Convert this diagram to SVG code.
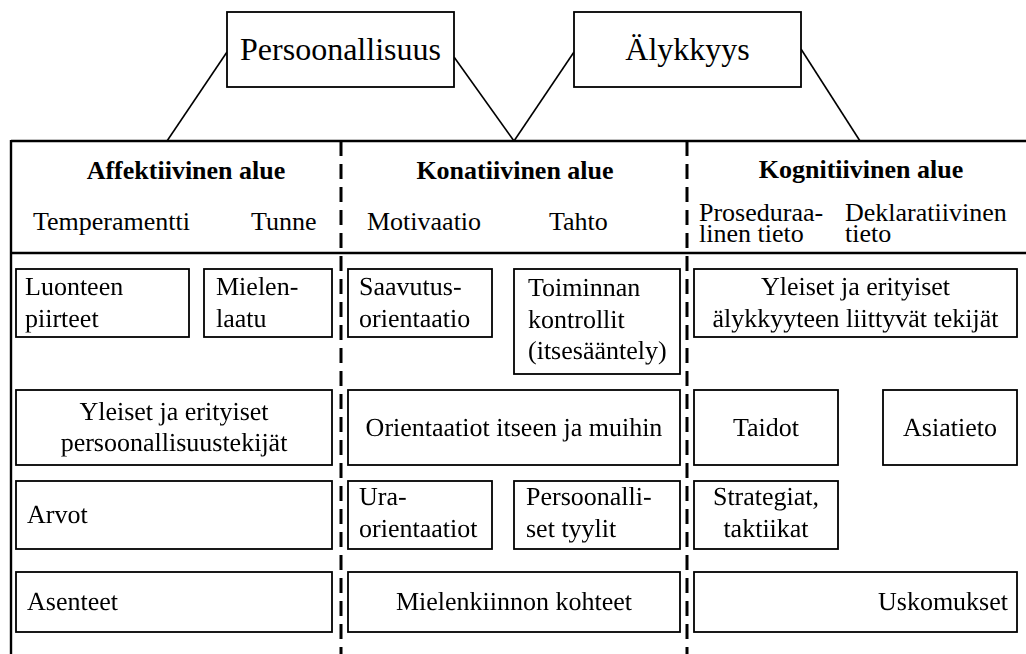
<svg xmlns="http://www.w3.org/2000/svg" width="1026" height="654" viewBox="0 0 1026 654">
  <defs>
    <filter id="flat" x="-5%" y="-20%" width="110%" height="140%">
      <feOffset dx="0" dy="0"/>
    </filter>
  </defs>
  <style>
    .box { fill: #fff; stroke: #000; stroke-width: 1.8; }
    .frame { fill: none; stroke: #000; stroke-width: 2.4; }
    .link { fill: none; stroke: #000; stroke-width: 1.6; }
    .divider { fill: none; stroke: #000; stroke-width: 3; stroke-dasharray: 15 8; }
    text { fill: #000; font-size: 26px; }
    .lt { filter: url(#flat); text-rendering: geometricPrecision; }
    .title { font-size: 32px; }
    .head { font-weight: bold; }
    .mid { text-anchor: middle; }
    .end { text-anchor: end; }
  </style>
  <rect width="1026" height="654" fill="#fff"/>

  <!-- connectors from the two top concepts down to the frame -->
  <g id="connectors">
    <line class="link" x1="227" y1="52" x2="167" y2="141"/>
    <line class="link" x1="454" y1="57" x2="514" y2="141"/>
    <line class="link" x1="574" y1="52" x2="514" y2="141"/>
    <line class="link" x1="801" y1="49" x2="860" y2="141"/>
  </g>

  <!-- outer frame, header rule and column dividers -->
  <g id="frame">
    <line class="frame" x1="11" y1="141" x2="1026" y2="141"/>
    <line class="frame" x1="11" y1="140" x2="11" y2="654"/>
    <line class="frame" x1="11" y1="253" x2="1026" y2="253"/>
    <line class="divider" x1="341" y1="141" x2="341" y2="654"/>
    <line class="divider" x1="687" y1="141" x2="687" y2="654"/>
  </g>

  <g id="persoonallisuus">
    <rect class="box" x="227" y="12" width="227" height="75"/>
    <text class="title mid" x="340.5" y="60" font-family="Liberation Serif">Persoonallisuus</text>
  </g>
  <g id="alykkyys">
    <rect class="box" x="574" y="12" width="227" height="75"/>
    <text class="title mid" x="687.5" y="60" font-family="Liberation Serif">Älykkyys</text>
  </g>

  <!-- column headings -->
  <g id="affektiivinen-head">
    <text class="head mid" x="186" y="179" font-family="Liberation Serif">Affektiivinen alue</text>
    <text font-family="Liberation Serif"><tspan x="33" y="230">Temperamentti</tspan><tspan x="251" y="230">Tunne</tspan></text>
  </g>
  <g id="konatiivinen-head">
    <text class="head mid" x="515" y="179" font-family="Liberation Serif">Konatiivinen alue</text>
    <text font-family="Liberation Serif"><tspan x="367" y="230">Motivaatio</tspan><tspan x="549" y="230">Tahto</tspan></text>
  </g>
  <g id="kognitiivinen-head">
    <text class="head mid" x="861" y="178" font-family="Liberation Serif">Kognitiivinen alue</text>
    <text font-family="Liberation Serif"><tspan x="699" y="221">Proseduraa-</tspan><tspan x="699" y="242">linen tieto</tspan></text>
    <text font-family="Liberation Serif"><tspan x="845" y="221">Deklaratiivinen</tspan><tspan x="845" y="242">tieto</tspan></text>
  </g>

  <!-- affective column -->
  <g id="luonteen-piirteet">
    <rect class="box" x="16" y="269" width="173" height="68"/>
    <text class="lt" font-family="Liberation Serif"><tspan x="25" y="295">Luonteen</tspan><tspan x="25" y="327">piirteet</tspan></text>
  </g>
  <g id="mielenlaatu">
    <rect class="box" x="204" y="269" width="128" height="68"/>
    <text class="lt" font-family="Liberation Serif"><tspan x="216" y="295">Mielen-</tspan><tspan x="216" y="327">laatu</tspan></text>
  </g>
  <g id="persoonallisuustekijat">
    <rect class="box" x="16" y="390" width="316" height="75"/>
    <text class="lt mid" font-family="Liberation Serif"><tspan x="174" y="420">Yleiset ja erityiset</tspan><tspan x="174" y="451">persoonallisuustekijät</tspan></text>
  </g>
  <g id="arvot">
    <rect class="box" x="16" y="481" width="316" height="68"/>
    <text class="lt" x="27" y="523" font-family="Liberation Serif">Arvot</text>
  </g>
  <g id="asenteet">
    <rect class="box" x="16" y="572" width="316" height="60"/>
    <text class="lt" x="27" y="610" font-family="Liberation Serif">Asenteet</text>
  </g>

  <!-- conative column -->
  <g id="saavutusorientaatio">
    <rect class="box" x="348" y="269" width="144" height="68"/>
    <text class="lt" font-family="Liberation Serif"><tspan x="359" y="295">Saavutus-</tspan><tspan x="359" y="327">orientaatio</tspan></text>
  </g>
  <g id="toiminnan-kontrollit">
    <rect class="box" x="514" y="269" width="166" height="105"/>
    <text class="lt" font-family="Liberation Serif"><tspan x="528" y="296">Toiminnan</tspan><tspan x="528" y="328">kontrollit</tspan><tspan x="528" y="359">(itsesääntely)</tspan></text>
  </g>
  <g id="orientaatiot">
    <rect class="box" x="348" y="390" width="332" height="75"/>
    <text class="lt mid" x="514" y="436" font-family="Liberation Serif">Orientaatiot itseen ja muihin</text>
  </g>
  <g id="uraorientaatiot">
    <rect class="box" x="348" y="481" width="144" height="68"/>
    <text class="lt" font-family="Liberation Serif"><tspan x="359" y="505">Ura-</tspan><tspan x="359" y="537">orientaatiot</tspan></text>
  </g>
  <g id="persoonalliset-tyylit">
    <rect class="box" x="514" y="481" width="166" height="68"/>
    <text class="lt" font-family="Liberation Serif"><tspan x="526" y="505">Persoonalli-</tspan><tspan x="526" y="537">set tyylit</tspan></text>
  </g>
  <g id="mielenkiinnon-kohteet">
    <rect class="box" x="348" y="572" width="332" height="60"/>
    <text class="lt mid" x="514" y="610" font-family="Liberation Serif">Mielenkiinnon kohteet</text>
  </g>

  <!-- cognitive column -->
  <g id="alykkyystekijat">
    <rect class="box" x="694" y="269" width="323" height="68"/>
    <text class="lt mid" font-family="Liberation Serif"><tspan x="855.5" y="295">Yleiset ja erityiset</tspan><tspan x="855.5" y="327">älykkyyteen liittyvät tekijät</tspan></text>
  </g>
  <g id="taidot">
    <rect class="box" x="694" y="390" width="144" height="75"/>
    <text class="lt mid" x="766" y="436" font-family="Liberation Serif">Taidot</text>
  </g>
  <g id="asiatieto">
    <rect class="box" x="883" y="390" width="134" height="75"/>
    <text class="lt mid" x="950" y="436" font-family="Liberation Serif">Asiatieto</text>
  </g>
  <g id="strategiat">
    <rect class="box" x="694" y="481" width="144" height="68"/>
    <text class="lt mid" font-family="Liberation Serif"><tspan x="766" y="505">Strategiat,</tspan><tspan x="766" y="537">taktiikat</tspan></text>
  </g>
  <g id="uskomukset">
    <rect class="box" x="694" y="572" width="323" height="60"/>
    <text class="lt end" x="1008" y="610" font-family="Liberation Serif">Uskomukset</text>
  </g>
</svg>
